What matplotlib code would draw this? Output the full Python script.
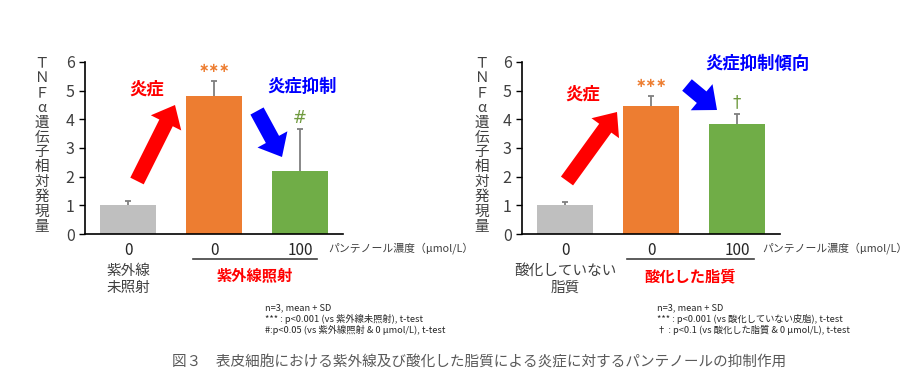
import matplotlib
matplotlib.use("Agg")
import matplotlib.pyplot as plt
from matplotlib.patches import FancyArrow
import matplotlib.transforms as mtransforms
import numpy as np

plt.rcParams['font.family'] = ['Noto Sans CJK JP', 'DejaVu Sans']

# ---- data ----
conc_labels = ['0', '0', '100']
left_means = [1.0, 4.8, 2.2]
left_sd = [0.15, 0.55, 1.45]
left_marks = ['', '***', '#']
right_means = [1.0, 4.48, 3.82]
right_sd = [0.10, 0.34, 0.38]
right_marks = ['', '***', '†']
bar_colors = ['#BFBFBF', '#ED7D31', '#70AD47']
mark_colors = ['#ED7D31', '#ED7D31', '#6F9A3E']
ylabel_chars = ['Ｔ', 'Ｎ', 'Ｆ', 'α', '遺', '伝', '子', '相', '対', '発', '現', '量']

W, H = 921, 392
fig = plt.figure(figsize=(W / 100, H / 100), dpi=100)

def P(x, y):
    return x / W, 1 - y / H

TXT = '#404040'

def make_panel(x0, means, sds, marks, ctrl_label, group_label, ylab_x, line_span):
    ax = fig.add_axes([x0 / W, 1 - 234 / H, 258 / W, 172 / H])
    pos = np.arange(len(means))
    m = np.array(means)
    tops = m + np.array(sds)
    ax.bar(pos, means, width=0.66, color=bar_colors, zorder=2)
    ax.vlines(pos, m, tops, colors='#7F7F7F', lw=1.3, zorder=3)
    ax.hlines(tops, pos - 0.03, pos + 0.03, colors='#7F7F7F', lw=1.3, zorder=3)
    for i, mk in enumerate(marks):
        if mk == '***':
            ax.text(i, tops[i] + 0.2, '∗∗∗', ha='center', va='bottom',
                    color=mark_colors[i], fontsize=9, fontweight='bold',
                    family=['DejaVu Sans'])
        elif mk:
            ax.text(i, tops[i] + 0.08, mk, ha='center', va='bottom',
                    color=mark_colors[i], fontsize=12, family=['DejaVu Sans'])
    ax.set_xlim(-0.5, 2.5)
    ax.set_ylim(0, 6)
    ax.set_yticks(range(7))
    ax.tick_params(axis='y', labelsize=11.5, labelcolor=TXT, length=4, width=1,
                   direction='out', color='black')
    ax.set_xticks(pos)
    ax.set_xticklabels(conc_labels, fontsize=11, color='#262626')
    ax.tick_params(axis='x', length=0, pad=6)
    for sp in ['top', 'right']:
        ax.spines[sp].set_visible(False)
    ax.spines['left'].set_linewidth(1.2)
    ax.spines['bottom'].set_linewidth(1.2)
    trans = mtransforms.blended_transform_factory(ax.transData, ax.transAxes)
    ax.plot(line_span, [-0.145, -0.145], color='#404040', lw=1.2, transform=trans, clip_on=False)
    ax.text(0, -0.175, ctrl_label, transform=trans, ha='center', va='top',
            fontsize=10.5, color=TXT, linespacing=1.25)
    ax.text(sum(line_span) / 2, -0.2, group_label, transform=trans, ha='center', va='top',
            fontsize=11, color='#FF0000', fontweight='bold')
    for k, ch in enumerate(ylabel_chars):
        fig.text(*P(ylab_x, 63 + k * 14.9), ch, ha='center', va='center',
                 fontsize=10.5, color=TXT)
    return ax

axL = make_panel(85, left_means, left_sd, left_marks, '紫外線\n未照射', '紫外線照射', 42, [0.75, 2.2])
axR = make_panel(522, right_means, right_sd, right_marks, '酸化していない\n脂質', '酸化した脂質', 482, [0.72, 2.2])

fig.text(*P(328, 248), 'パンテノール濃度（μmol/L）', fontsize=7.8, color=TXT, va='center')
fig.text(*P(762, 248), 'パンテノール濃度（μmol/L）', fontsize=7.8, color=TXT, va='center')

# annotation words
fig.text(*P(147, 90), '炎症', color='#FF0000', fontsize=12.5, fontweight='bold', ha='center', va='center')
fig.text(*P(302, 87), '炎症抑制', color='#0000FF', fontsize=12.5, fontweight='bold', ha='center', va='center')
fig.text(*P(583, 95), '炎症', color='#FF0000', fontsize=12.5, fontweight='bold', ha='center', va='center')
fig.text(*P(757, 64), '炎症抑制傾向', color='#0000FF', fontsize=12.5, fontweight='bold', ha='center', va='center')

# arrows in pixel overlay
ov = fig.add_axes([0, 0, 1, 1], zorder=5)
ov.set_xlim(0, W)
ov.set_ylim(H, 0)
ov.axis('off')
arrows = [((137, 181), (175, 105), '#FF0000'),
          ((257, 111), (282, 157), '#0000FF'),
          ((567, 181), (617, 112), '#FF0000'),
          ((687, 85), (717, 110), '#0000FF')]
for (xt, yt), (xh, yh), c in arrows:
    ov.add_patch(FancyArrow(xt, yt, xh - xt, yh - yt, width=15, head_width=34,
                            head_length=20, length_includes_head=True, color=c, lw=0))

# footnotes
foot_left = ['n=3, mean + SD', '*** : p<0.001 (vs 紫外線未照射), t-test',
             '#:p<0.05 (vs 紫外線照射 & 0 μmol/L), t-test']
foot_right = ['n=3, mean + SD', '*** : p<0.001 (vs 酸化していない皮脂), t-test',
              '† : p<0.1 (vs 酸化した脂質 & 0 μmol/L), t-test']
for k, s in enumerate(foot_left):
    fig.text(*P(265, 308 + k * 11), s, fontsize=6.7, color='#262626', va='center')
for k, s in enumerate(foot_right):
    fig.text(*P(657, 308 + k * 11), s, fontsize=6.7, color='#262626', va='center')

fig.text(*P(172, 363), '図３　表皮細胞における紫外線及び酸化した脂質による炎症に対するパンテノールの抑制作用',
         fontsize=10.5, color='#595959', va='center')

fig.savefig('out.png', dpi=100)
